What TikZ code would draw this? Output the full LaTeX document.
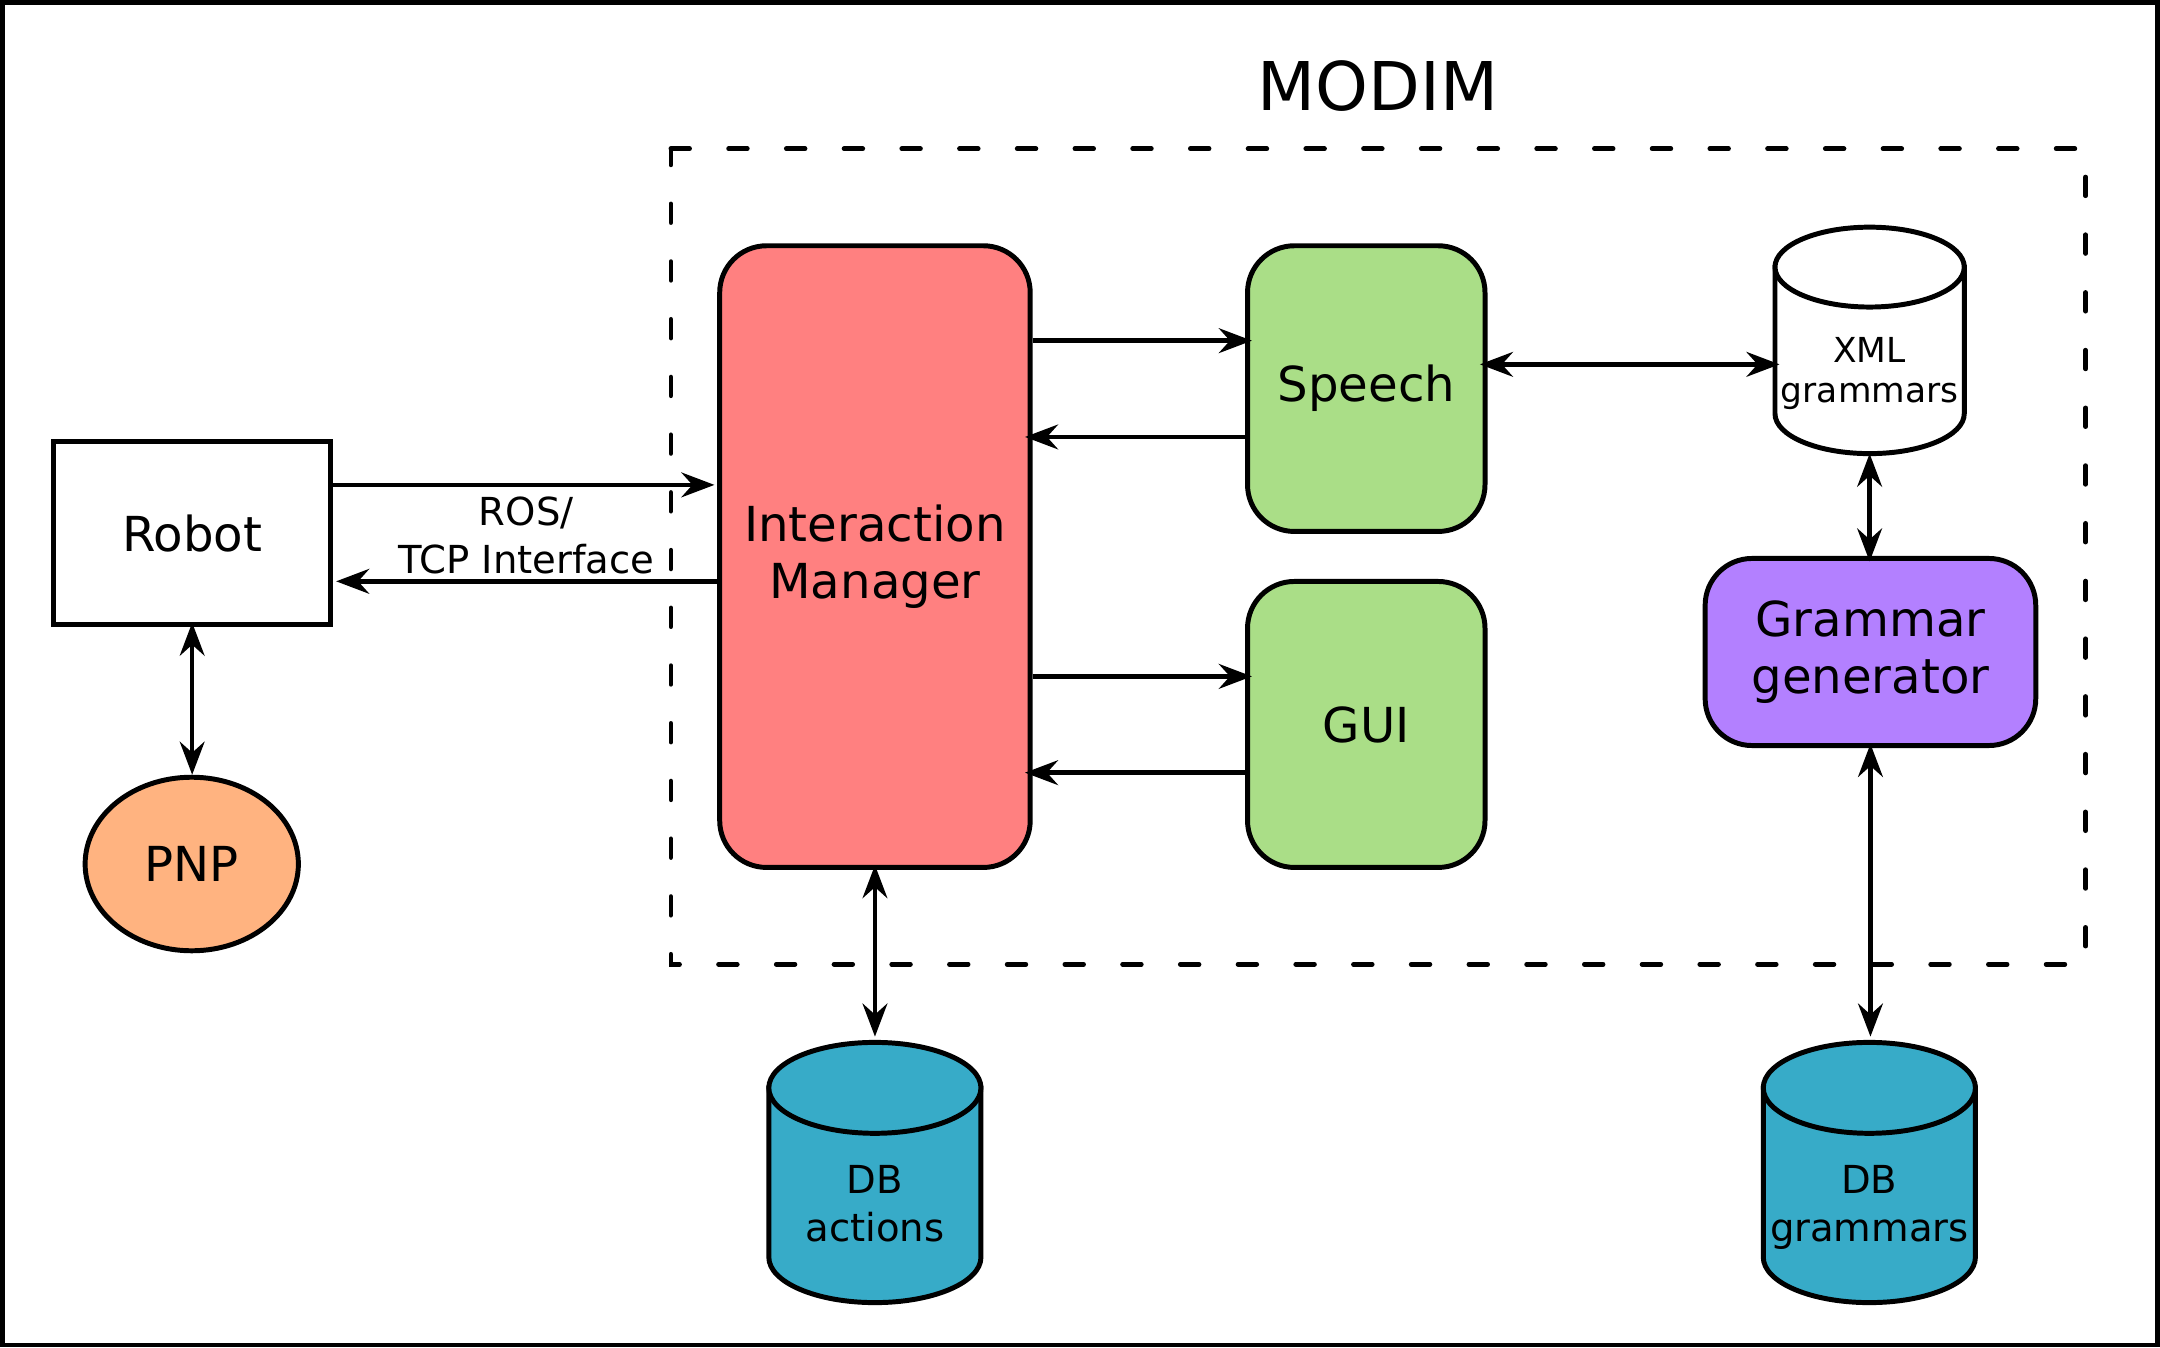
\documentclass[tikz,border=0pt]{standalone}
\usepackage{fontspec}
\setmainfont{DejaVu Sans}
\usetikzlibrary{arrows.meta,shapes.geometric}
\newcommand\fsmain{\fontsize{35pt}{41.6pt}\selectfont}
\newcommand\fssmall{\fontsize{28pt}{34.6pt}\selectfont}
\newcommand\fsxml{\fontsize{25pt}{29pt}\selectfont}
\newcommand\fstitle{\fontsize{48.8pt}{58pt}\selectfont}
\definecolor{imred}{HTML}{FF8080}
\definecolor{modgreen}{HTML}{AADE87}
\definecolor{genpurple}{HTML}{B380FF}
\definecolor{pnporange}{HTML}{FFB380}
\definecolor{dbblue}{HTML}{37ABC8}
% cylinder: #1 cx, #2 top ellipse centre y, #3 bottom ellipse centre y, #4 rx, #5 ry, #6 fill
\newcommand{\dbcyl}[6]{%
  \pgfmathsetmacro\cylL{#1-#4}\pgfmathsetmacro\cylR{#1+#4}%
  \pgfmathsetmacro\cylkx{0.5523*#4}\pgfmathsetmacro\cylky{0.5523*#5}%
  \pgfmathsetmacro\cylbY{#3+#5}\pgfmathsetmacro\cylbK{#3+\cylky}%
  \pgfmathsetmacro\cylxa{#1-\cylkx}\pgfmathsetmacro\cylxb{#1+\cylkx}%
  \filldraw[cylline, fill=#6] (\cylL,#2) -- (\cylL,#3)
     .. controls (\cylL,\cylbK) and (\cylxa,\cylbY) .. (#1,\cylbY)
     .. controls (\cylxb,\cylbY) and (\cylR,\cylbK) .. (\cylR,#3)
     -- (\cylR,#2) -- cycle;
  \filldraw[cylline, fill=#6] (#1,#2) ellipse [x radius=#4, y radius=#5];
}
\begin{document}
\begin{tikzpicture}[x=1pt,y=-1pt]
\tikzset{
  boxline/.style={draw=black, line width=3.6pt},
  modbox/.style={boxline, rounded corners=34pt, inner sep=0pt, align=center, font=\fsmain},
  ghostbox/.style={inner sep=0pt, outer sep=0pt, draw=none},
  tipA/.tip={Stealth[length=24pt,width=18pt,inset=8pt]},
  arr/.style={line width=3.3pt, -tipA},
  darr/.style={line width=3.3pt, tipA-tipA},
  frameline/.style={line width=3.4pt},
  groupline/.style={line width=3.4pt, line cap=round, dash pattern=on 13.6pt off 28.3pt},
  cylline/.style={line width=3.6pt},
  lbl/.style={inner sep=0pt, align=center},
}
\useasboundingbox (0,0) rectangle (1568,978.55);
\fill[white] (0,0) rectangle (1568,978.55);
\draw[frameline] (1.7,1.7) rectangle (1566,976.3);

\node[lbl, font=\fstitle] (title) at (1000.2,62.6) {MODIM};
\draw[groupline] (487,108) -- (1514,108) -- (1514,700) -- (487,700) -- cycle;

\node[modbox, fill=imred, minimum width=225.4pt, minimum height=451.3pt] (im) at (635.15,404.05) {Interaction\\Manager};
\node[modbox, fill=modgreen, minimum width=172.4pt, minimum height=207.4pt] (speech) at (991.8,282.1) {Speech};
\node[modbox, fill=modgreen, minimum width=172.4pt, minimum height=207.6pt] (gui) at (991.8,525.9) {GUI};
\node[modbox, fill=genpurple, minimum width=240pt, minimum height=135.8pt] (gg) at (1357.8,473.3) {Grammar\\generator};
\node[boxline, fill=white, inner sep=0pt, font=\fsmain, minimum width=201.4pt, minimum height=132.4pt] (robot) at (139.5,387) {Robot};
\node[ellipse, boxline, fill=pnporange, inner sep=0pt, font=\fsmain, minimum width=154.8pt, minimum height=126pt] (pnp) at (139.2,627.2) {PNP};

\dbcyl{1357.2}{193.9}{300.3}{68.7}{29}{white}
\node[ghostbox, minimum width=140.8pt, minimum height=167.7pt] (xml) at (1357.2,247.15) {};
\node[lbl, font=\fsxml] (xmltext) at (1357.2,271) {XML\\grammars};

\dbcyl{635.1}{789.7}{912.6}{77}{33}{dbblue}
\node[ghostbox, minimum width=157.4pt, minimum height=192.3pt] (dba) at (635.1,851.15) {};
\node[lbl, font=\fssmall] (dbatext) at (635.1,873.8) {DB\\actions};

\dbcyl{1357}{789.7}{912.6}{77}{33}{dbblue}
\node[ghostbox, minimum width=157.4pt, minimum height=192.3pt] (dbg) at (1357,851.15) {};
\node[lbl, font=\fssmall] (dbgtext) at (1357,876.7) {DB\\grammars};

\node[lbl, font=\fssmall] (ros) at (382,388.5) {ROS/\\TCP Interface};

\coordinate (yA) at (0,352);
\coordinate (yB) at (0,422);
\coordinate (yC) at (0,247.3);
\coordinate (yD) at (0,317.2);
\coordinate (yE) at (0,491);
\coordinate (yF) at (0,560.9);
\coordinate (yG) at (0,264.5);

\draw[arr, shorten >=2pt] (robot.east |- yA) -- (im.west |- yA);
\draw[arr, shorten >=2pt] (im.west |- yB) -- (robot.east |- yB);
\draw[arr, shorten >=-5pt] (im.east |- yC) -- (speech.west |- yC);
\draw[arr, shorten >=-5.6pt] (speech.west |- yD) -- (im.east |- yD);
\draw[arr, shorten >=-5pt] (im.east |- yE) -- (gui.west |- yE);
\draw[arr, shorten >=-5.6pt] (gui.west |- yF) -- (im.east |- yF);
\draw[darr, shorten <=-5.5pt, shorten >=-5pt] (speech.east |- yG) -- (xml.west |- yG);
\draw[darr, shorten <=-1.7pt, shorten >=-4pt] (xml.south) -- (xml.south |- gg.north);
\draw[darr, shorten <=-3pt, shorten >=2.5pt] (gg.south) -- (gg.south |- dbg.north);
\draw[darr, shorten <=-3.5pt, shorten >=2.5pt] (im.south) -- (im.south |- dba.north);
\draw[darr, shorten <=-3pt] (robot.south) -- (robot.south |- pnp.north);
\end{tikzpicture}
\end{document}
